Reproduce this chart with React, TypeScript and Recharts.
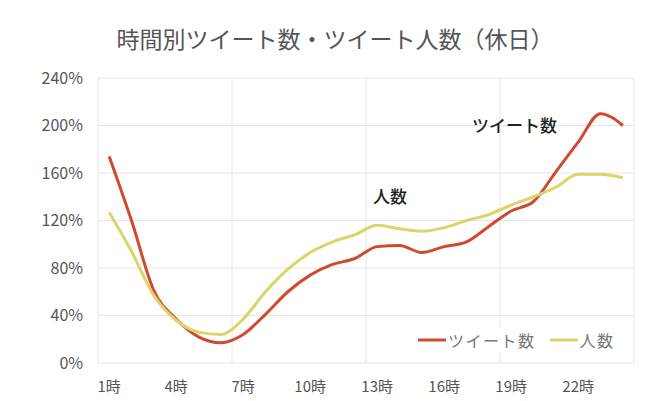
import { LineChart, Line, XAxis, YAxis, CartesianGrid } from 'recharts';

document.body.style.margin = '0';

const hours = [1, 2, 3, 4, 5, 6, 7, 8, 9, 10, 11, 12, 13, 14, 15, 16, 17, 18, 19, 20, 21, 22, 23, 24];
const tweets = [174, 120, 61, 37, 22, 17, 24, 41, 60, 74, 83, 88, 98, 99, 93, 98, 102, 115, 128, 136, 161, 186, 210, 200];
const users = [127, 94, 57, 36, 26, 24, 37, 60, 79, 93, 102, 108, 116, 113, 111, 114, 120, 125, 133, 140, 148, 159, 159, 156];
const hourTicks = [1, 4, 7, 10, 13, 16, 19, 22];
const gridTicks = [0.5, 6.5, 12.5, 18.5, 24.5];
const percentTicks = [0, 40, 80, 120, 160, 200, 240];

const data = hours.map((h, i) => ({ hour: h, tweets: tweets[i], users: users[i] }));

const FONT = '"Noto Sans CJK JP", "Noto Sans", sans-serif';
const RED = '#cf4a30';
const YELLOW = '#dcd46a';

const series = [
  { key: 'tweets', name: 'ツイート数', color: RED },
  { key: 'users', name: '人数', color: YELLOW },
];

export default function App() {
  return (
    <div style={{ position: 'relative', width: 650, height: 401, background: '#fff', fontFamily: FONT }}>
      <div style={{ position: 'absolute', left: 0, width: 670, top: 23, textAlign: 'center', fontSize: 23, color: '#555', lineHeight: '30px' }}>
        時間別ツイート数・ツイート人数（休日）
      </div>
      <LineChart width={650} height={401} data={data} margin={{ top: 78, right: 16, bottom: 8, left: 0 }}>
        <CartesianGrid xAxisId="grid" stroke="#e6e6e6" strokeWidth={1} />
        <XAxis xAxisId="grid" type="number" dataKey="hour" domain={[0.5, 24.5]} ticks={gridTicks} hide />
        <XAxis
          type="number"
          dataKey="hour"
          domain={[0.5, 24.5]}
          ticks={hourTicks}
          tickFormatter={(v) => `${v}時`}
          axisLine={false}
          tickLine={false}
          tickMargin={12}
          height={30}
          tick={{ fontSize: 15, fill: '#555', fontFamily: FONT }}
        />
        <YAxis
          domain={[0, 240]}
          ticks={percentTicks}
          tickFormatter={(v) => `${v}%`}
          axisLine={false}
          tickLine={false}
          tickMargin={9}
          width={98}
          tick={{ fontSize: 16, fill: '#555', fontFamily: FONT }}
        />
        {series.map((s) => (
          <Line key={s.key} type="monotone" dataKey={s.key} name={s.name} stroke={s.color} strokeWidth={3} dot={false} isAnimationActive={false} />
        ))}
      </LineChart>
      <div style={{ position: 'absolute', left: 418, top: 328, display: 'flex', alignItems: 'center', fontSize: 16, color: '#777', letterSpacing: 1.5, background: '#fff', lineHeight: '24px' }}>
        {series.map((s) => (
          <div key={s.key} style={{ display: 'flex', alignItems: 'center', marginRight: 14 }}>
            <svg width={28} height={6} style={{ marginRight: 2 }}>
              <line x1={0} y1={3} x2={28} y2={3} stroke={s.color} strokeWidth={3} />
            </svg>
            <span>{s.name}</span>
          </div>
        ))}
      </div>
      <div style={{ position: 'absolute', left: 472, top: 112, fontSize: 17, fontWeight: 500, color: '#222' }}>ツイート数</div>
      <div style={{ position: 'absolute', left: 373, top: 183, fontSize: 17, fontWeight: 500, color: '#222' }}>人数</div>
    </div>
  );
}
